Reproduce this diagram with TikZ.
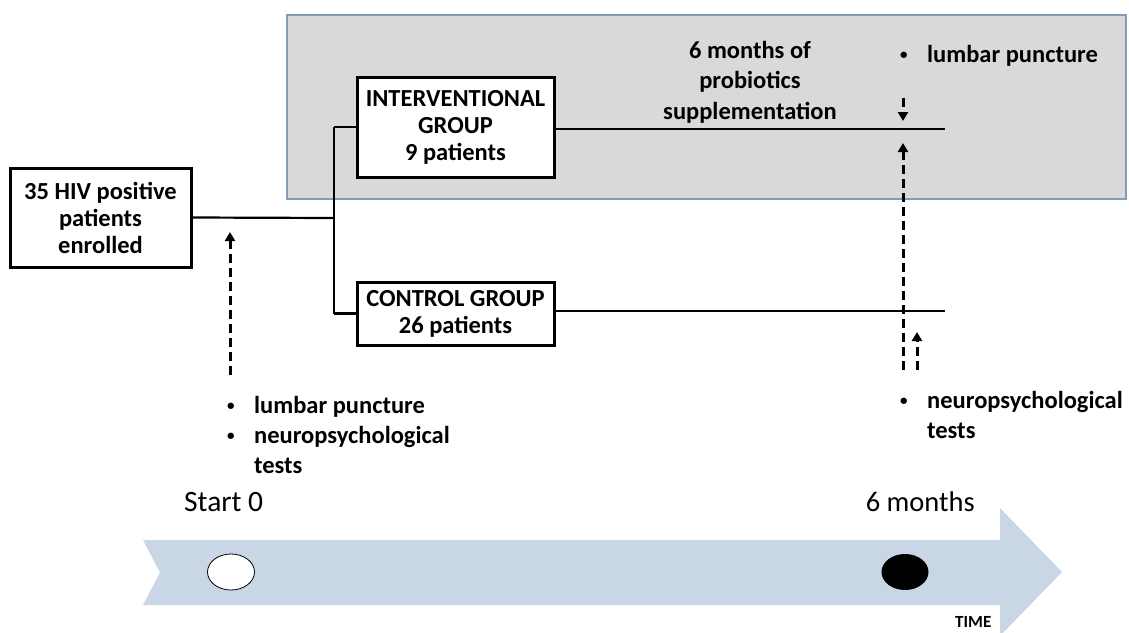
\documentclass[tikz,border=0pt]{standalone}
\usepackage{fontspec}
\setmainfont{Carlito}
\usetikzlibrary{arrows.meta,shapes.geometric}
\definecolor{grayfill}{HTML}{D9D9D9}
\definecolor{grayedge}{HTML}{7F9DB9}
\definecolor{timeblue}{HTML}{C9D6E6}
\tikzset{
  box/.style={draw=black, line width=3pt, fill=white, align=center, inner sep=0pt,
    font=\fontsize{24.5}{27}\selectfont\bfseries},
  lbl/.style={align=center, inner sep=0pt, font=\fontsize{24.5}{30.5}\selectfont\bfseries},
  blt/.style={align=left, inner sep=0pt, anchor=north west, font=\fontsize{24.5}{30}\selectfont\bfseries},
  conn/.style={line width=2.2pt},
  darr/.style={line width=3pt, dash pattern=on 9pt off 5pt, -{Triangle[length=9pt,width=10pt]}},
}
\newcommand{\bitem}[1]{\makebox[27pt][l]{\raisebox{0.12em}{\fontsize{15}{15}\selectfont\textbullet}}#1}
\begin{document}
\begin{tikzpicture}[x=1pt,y=-1pt]
\useasboundingbox (0,0) rectangle (1129,632);
% grey region
\fill[grayfill, draw=grayedge, line width=1.2pt] (287,15) rectangle (1126,199);
% timeline arrow
\fill[timeblue] (143,540) -- (1000,540) -- (1000,508) -- (1062,572) -- (1000,636) -- (1000,605) -- (143,605) -- (160,572.5) -- cycle;
\node[draw=black, line width=0.8pt, fill=white, ellipse, minimum width=47pt, minimum height=36pt, inner sep=0pt] (c0) at (231,572) {};
\node[fill=black, ellipse, minimum width=47pt, minimum height=36pt, inner sep=0pt] (c6) at (905,572) {};
\node[anchor=base west, inner sep=0pt, font=\fontsize{29.5}{30}\selectfont] (st) at (184,511) {Start 0};
\node[anchor=base east, inner sep=0pt, font=\fontsize{28.5}{30}\selectfont] (sm) at (975,511) {6 months};
\node[anchor=base west, inner sep=0pt, font=\fontsize{17}{20}\selectfont\bfseries] (tm) at (955,627) {TIME};
% boxes
\node[box, minimum width=181pt, minimum height=99pt] (enr) at (100.5,217.5) {35 HIV positive\\patients\\enrolled};
\node[box, minimum width=197pt, minimum height=100pt] (int) at (455.5,127) {INTERVENTIONAL\\GROUP\\9 patients};
\node[box, minimum width=197pt, minimum height=63pt] (ctl) at (455.5,313.5) {CONTROL GROUP\\26 patients};
% connectors
\coordinate (j) at (334,218);
\coordinate (ie) at (945,129);
\coordinate (ce) at (945,311);
\draw[conn] (enr.east) -- (j);
\draw[conn] (j |- int.west) -- (j |- ctl.west);
\draw[conn] (j |- int.west) -- (int.west);
\draw[conn] (j |- ctl.west) -- (ctl.west);
\draw[conn] (int.east |- ie) -- (ie);
\draw[conn] (ctl.east |- ce) -- (ce);
% labels
\node[lbl] (sup) at (750,82) {6 months of\\probiotics\\supplementation};
\node[blt] (lp2) at (900,45) {\bitem{lumbar puncture}};
\node[blt] (t0) at (227,396) {\bitem{lumbar puncture}\\\bitem{neuropsychological}\\\hspace*{27pt}tests};
\node[blt] (t6) at (900,391) {\bitem{neuropsychological}\\\hspace*{27pt}tests};
% dashed arrows
\coordinate (a0s) at (230,375); \coordinate (a0e) at (230,232);
\coordinate (a1s) at (903,98); \coordinate (a1e) at (903,121);
\coordinate (a2s) at (903,370); \coordinate (a2e) at (903,143);
\coordinate (a3s) at (917,370); \coordinate (a3e) at (917,332);
\draw[darr] (a0s) -- (a0e);
\draw[darr] (a1s) -- (a1e);
\draw[darr] (a2s) -- (a2e);
\draw[darr] (a3s) -- (a3e);
\end{tikzpicture}
\end{document}
